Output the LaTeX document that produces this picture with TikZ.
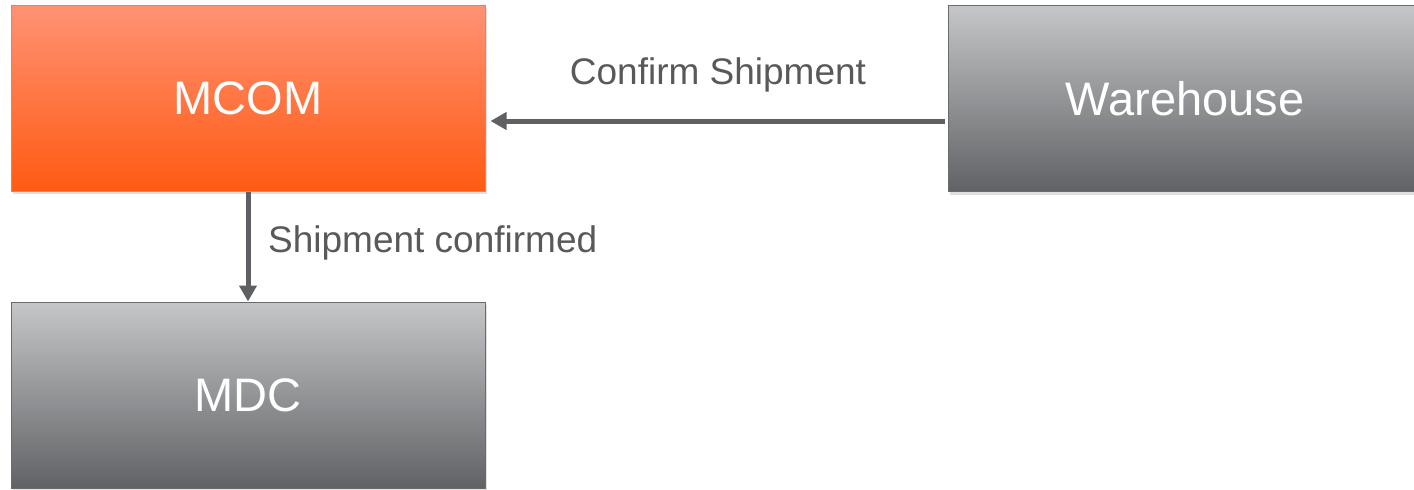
\documentclass[tikz,border=0pt]{standalone}
\usepackage{fontspec}
\setmainfont{Liberation Sans}
\usetikzlibrary{arrows.meta,shadows}
\definecolor{orTop}{HTML}{FF9274}
\definecolor{orBot}{HTML}{FF5A12}
\definecolor{orLine}{HTML}{FF7A45}
\definecolor{grTop}{HTML}{C5C6C8}
\definecolor{grBot}{HTML}{616265}
\definecolor{grLine}{HTML}{6A6B6E}
\definecolor{arrowc}{HTML}{5F6064}
\definecolor{labelc}{HTML}{58595B}
\tikzset{
  box/.style={rectangle, minimum width=474pt, minimum height=186pt, inner sep=0pt,
    text=white, font=\fontsize{47}{56}\selectfont,
    drop shadow={shadow xshift=2pt, shadow yshift=-3pt, opacity=0.25}},
  orangebox/.style={box, draw=orLine, line width=1pt, top color=orTop, bottom color=orBot},
  greybox/.style={box, draw=grLine, line width=1pt, top color=grTop, bottom color=grBot},
  flow/.style={draw=arrowc, line width=5pt, -{Triangle[length=16pt,width=17pt]}},
  lbl/.style={text=labelc, font=\fontsize{37}{44}\selectfont, inner sep=0pt}
}
\begin{document}
\begin{tikzpicture}[x=1pt,y=-1pt]
\useasboundingbox (0,0) rectangle (1414,490);
\node[orangebox] (mcom) at (248,98) {MCOM};
\node[greybox] (wh) at (1185,98.5) {Warehouse};
\node[greybox] (mdc) at (248,395) {MDC};
\coordinate (whs) at (945,121);
\coordinate (mce) at ([xshift=5pt]mcom.east |- whs);
\draw[flow] (whs) -- (mce);
\draw[flow] (mcom.south) -- (mdc.north);
\node[lbl] (l1) at (718,75) {Confirm Shipment};
\node[lbl, anchor=west] (l2) at (268,243) {Shipment confirmed};
\end{tikzpicture}
\end{document}
